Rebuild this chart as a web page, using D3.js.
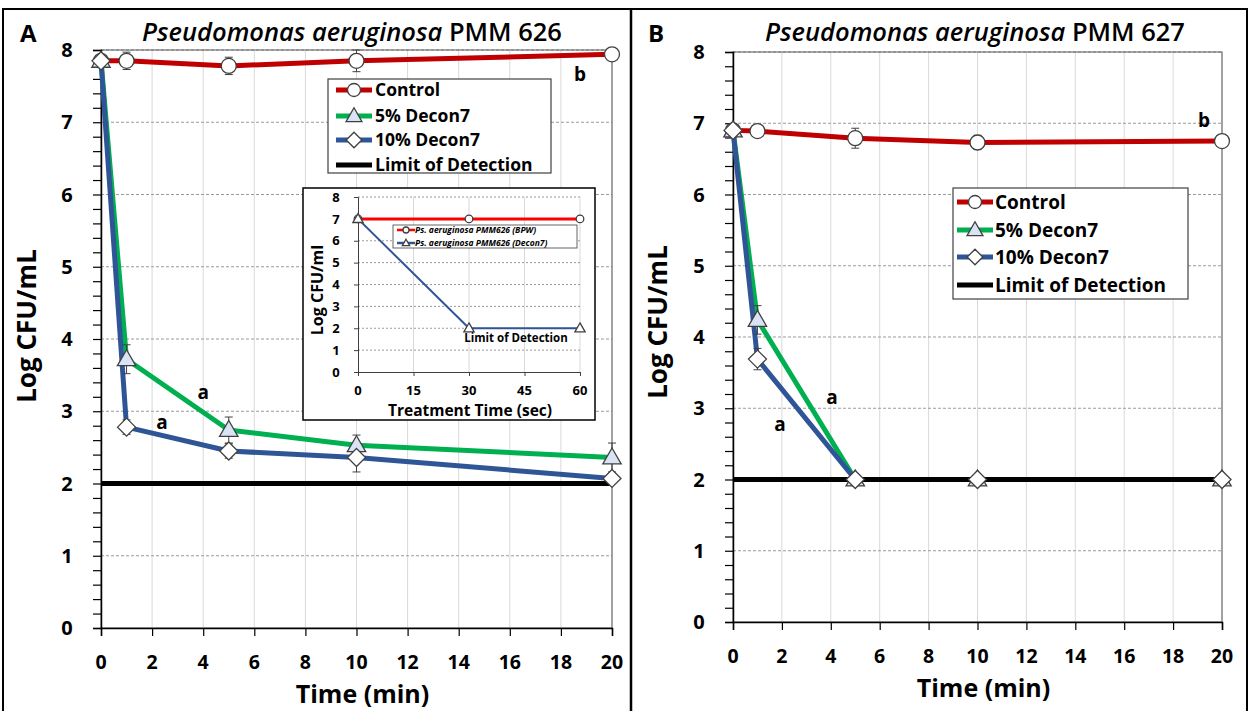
<!DOCTYPE html>
<html><head><meta charset="utf-8">
<script src="https://cdn.jsdelivr.net/npm/d3@7"></script>
<style>body{margin:0;background:#fff}svg{display:block}text{font-family:"Open Sans","Noto Sans",sans-serif}</style>
</head><body>
<svg id="c" width="1250" height="711"></svg>
<script>
// ---------- data ----------
const timesMin = [0, 1, 5, 10, 20];
const xTicksMin = [0, 2, 4, 6, 8, 10, 12, 14, 16, 18, 20];
const yTicks = [0, 1, 2, 3, 4, 5, 6, 7, 8];
const seriesNames = ["Control", "5% Decon7", "10% Decon7", "Limit of Detection"];
const limitOfDetection = 2;

const aControl = [7.85, 7.85, 7.78, 7.85, 7.94];
const aControlErr = [0.06, 0.12, 0.12, 0.15, 0.04];
const a5 = [7.85, 3.72, 2.74, 2.53, 2.36];
const a5Err = [0.08, 0.2, 0.18, 0.14, 0.2];
const a10 = [7.85, 2.78, 2.45, 2.36, 2.07];
const a10Err = [0.05, 0.1, 0.1, 0.2, 0.04];

const bControl = [6.9, 6.89, 6.79, 6.73, 6.75];
const bControlErr = [0.06, 0.06, 0.14, 0.1, 0.04];
const b5 = [6.9, 4.24, 2.0, 2.0, 2.0];
const b5Err = [0.05, 0.2, 0.02, 0.02, 0.02];
const b10 = [6.9, 3.69, 2.0, 2.0, 2.0];
const b10Err = [0.05, 0.15, 0.02, 0.02, 0.02];

const insetTimesSec = [0, 30, 60];
const insetXTicks = [0, 15, 30, 45, 60];
const insetBPW = [7, 7, 7];
const insetDecon7 = [7, 2, 2];
const insetNames = ["Ps. aeruginosa PMM626 (BPW)", "Ps. aeruginosa PMM626 (Decon7)"];

// ---------- styles ----------
const RED = "#C00000", GREEN = "#00B050", BLUE = "#2F5597", MK = "#404040", TRI = "#DAE3F3";
const svg = d3.select("#c");

// frames
svg.append("rect").attr("x", 3).attr("y", 9).attr("width", 1244).attr("height", 706)
  .attr("fill", "none").attr("stroke", "#000").attr("stroke-width", 2);
svg.append("line").attr("x1", 631).attr("x2", 631).attr("y1", 9).attr("y2", 711)
  .attr("stroke", "#000").attr("stroke-width", 2.5);

function marker(g, type, x, y, r, fill) {
  if (type === "circle") {
    g.append("circle").attr("cx", x).attr("cy", y).attr("r", r).attr("fill", fill || "#fff").attr("stroke", MK).attr("stroke-width", 1.3);
  } else if (type === "tri") {
    g.append("path").attr("d", d3.symbol(d3.symbolTriangle, r * r * 2.6)())
      .attr("transform", `translate(${x},${y + r * 0.15})`).attr("fill", fill || TRI).attr("stroke", MK).attr("stroke-width", 1.3);
  } else {
    g.append("path").attr("d", `M0,${-r * 1.2}L${r * 1.2},0L0,${r * 1.2}L${-r * 1.2},0Z`)
      .attr("transform", `translate(${x},${y})`).attr("fill", fill || "#fff").attr("stroke", MK).attr("stroke-width", 1.3);
  }
}

function panel(cfg) {
  const x = d3.scaleLinear().domain([0, 20]).range([cfg.left, cfg.right]);
  const y = d3.scaleLinear().domain([0, 8]).range([cfg.bottom, cfg.top]);
  const g = svg.append("g");
  g.append("g").selectAll("line").data(xTicksMin.slice(1)).join("line")
    .attr("x1", d => x(d)).attr("x2", d => x(d)).attr("y1", cfg.top).attr("y2", cfg.bottom)
    .attr("stroke", "#d9d9d9").attr("stroke-width", 1);
  g.append("g").selectAll("line").data(yTicks.slice(1)).join("line")
    .attr("x1", cfg.left).attr("x2", cfg.right).attr("y1", d => y(d)).attr("y2", d => y(d))
    .attr("stroke", "#9a9a9a").attr("stroke-dasharray", "3,2").attr("stroke-width", 1);
  g.append("rect").attr("x", cfg.left).attr("y", cfg.top).attr("width", cfg.right - cfg.left).attr("height", cfg.bottom - cfg.top)
    .attr("fill", "none").attr("stroke", "#595959").attr("stroke-width", 1);
  const yAx = g.append("g").attr("transform", `translate(${cfg.left},0)`)
    .call(d3.axisLeft(y).tickValues(d3.range(0, 8.01, 0.2)).tickSize(8).tickFormat(""));
  yAx.select(".domain").attr("stroke", "#000").attr("stroke-width", 1.5);
  yAx.selectAll(".tick line").attr("stroke", "#000").attr("stroke-width", 1.2);
  g.append("g").selectAll("text").data(yTicks).join("text")
    .attr("x", cfg.left - 34).attr("y", d => y(d)).attr("dy", "0.36em").attr("text-anchor", "middle")
    .attr("font-size", 20).attr("font-weight", 700).text(d => d);
  const xAx = g.append("g").attr("transform", `translate(0,${cfg.bottom})`)
    .call(d3.axisBottom(x).tickValues(xTicksMin).tickSize(8).tickFormat(""));
  xAx.select(".domain").attr("stroke", "#000").attr("stroke-width", 1.5);
  xAx.selectAll(".tick line").attr("stroke", "#000").attr("stroke-width", 1.2);
  g.append("g").selectAll("text").data(xTicksMin).join("text")
    .attr("x", d => x(d)).attr("y", cfg.bottom + 41).attr("text-anchor", "middle")
    .attr("font-size", 19.5).attr("font-weight", 700).text(d => d);
  g.append("text").attr("transform", `translate(${cfg.ytx},${cfg.ytc}) rotate(-90)`)
    .attr("text-anchor", "middle").attr("font-size", 26).attr("font-weight", 700).text("Log CFU/mL");
  g.append("text").attr("x", (cfg.left + cfg.right) / 2 + 6).attr("y", cfg.bottom + 75).attr("text-anchor", "middle")
    .attr("font-size", 25).attr("font-weight", 700).text("Time (min)");
  const t = g.append("text").attr("x", cfg.titleX).attr("y", 41).attr("text-anchor", "middle")
    .attr("font-size", 25.5).attr("font-weight", 600);
  t.append("tspan").attr("font-style", "italic").text("Pseudomonas aeruginosa");
  t.append("tspan").text(" " + cfg.strain);
  g.append("text").attr("x", cfg.letterX).attr("y", 42).attr("font-size", 24).attr("font-weight", 700).text(cfg.letter);

  const series = [
    { v: cfg.control, e: cfg.controlErr, c: RED, m: "circle" },
    { v: cfg.s5, e: cfg.s5Err, c: GREEN, m: "tri" },
    { v: cfg.s10, e: cfg.s10Err, c: BLUE, m: "diamond" }
  ];
  const line = d3.line().x((d, i) => x(timesMin[i])).y(d => y(d));
  series.forEach(s => {
    g.append("path").attr("d", line(s.v)).attr("fill", "none").attr("stroke", s.c).attr("stroke-width", 5).attr("stroke-linejoin", "round");
  });
  g.append("line").attr("x1", cfg.left).attr("x2", cfg.right).attr("y1", y(limitOfDetection)).attr("y2", y(limitOfDetection))
    .attr("stroke", "#000").attr("stroke-width", 5);
  series.forEach(s => {
    s.v.forEach((v, i) => {
      const cx = x(timesMin[i]);
      const y0 = y(v - s.e[i]), y1 = y(v + s.e[i]);
      g.append("line").attr("x1", cx).attr("x2", cx).attr("y1", y0).attr("y2", y1).attr("stroke", MK).attr("stroke-width", 1);
      [y0, y1].forEach(yy => g.append("line").attr("x1", cx - 4).attr("x2", cx + 4).attr("y1", yy).attr("y2", yy).attr("stroke", MK).attr("stroke-width", 1));
    });
  });
  series.forEach(s => s.v.forEach((v, i) => marker(g, s.m, x(timesMin[i]), y(v), 7.5)));

  cfg.letters.forEach(l => g.append("text").attr("x", x(l[0])).attr("y", y(l[1])).attr("dy", "0.3em").attr("text-anchor", "middle")
    .attr("font-size", 19).attr("font-weight", 700).text(l[2]));

  const L = cfg.legend;
  const lg = g.append("g");
  lg.append("rect").attr("x", L.x).attr("y", L.y).attr("width", L.w).attr("height", L.h).attr("fill", "#fff").attr("stroke", "#404040").attr("stroke-width", 1.2);
  const cols = [RED, GREEN, BLUE, "#000"], mks = ["circle", "tri", "diamond", null];
  seriesNames.forEach((n, i) => {
    const yy = L.rows[i];
    lg.append("line").attr("x1", L.sx).attr("x2", L.sx + L.sw).attr("y1", yy).attr("y2", yy).attr("stroke", cols[i]).attr("stroke-width", 5);
    if (mks[i]) marker(lg, mks[i], L.sx + L.sw / 2, yy, 6.5);
    lg.append("text").attr("x", L.tx).attr("y", yy).attr("dy", "0.36em").attr("font-size", L.fs).attr("font-weight", 700).text(n);
  });
}

panel({
  left: 101, right: 612, top: 50, bottom: 628, ytx: 36, ytc: 326, titleX: 352, letterX: 20, letter: "A", strain: "PMM 626",
  control: aControl, controlErr: aControlErr, s5: a5, s5Err: a5Err, s10: a10, s10Err: a10Err,
  letters: [[4.0, 3.25, "a"], [2.39, 2.84, "a"], [18.75, 7.65, "b"]],
  legend: { x: 328, y: 79, w: 223, h: 94, rows: [90, 116, 140, 165], sx: 336, sw: 36, tx: 375, fs: 17.5 }
});
panel({
  left: 733, right: 1222, top: 52, bottom: 622, ytx: 667, ytc: 322, titleX: 975, letterX: 648, letter: "B", strain: "PMM 627",
  control: bControl, controlErr: bControlErr, s5: b5, s5Err: b5Err, s10: b10, s10Err: b10Err,
  letters: [[4.05, 3.14, "a"], [1.92, 2.76, "a"], [19.26, 7.03, "b"]],
  legend: { x: 953, y: 188, w: 235, h: 111, rows: [202, 230, 257, 285], sx: 957, sw: 36, tx: 995, fs: 19 }
});

// ---------- inset ----------
(function inset() {
  const box = { x: 303, y: 188, w: 292, h: 232 };
  const left = 358, right = 580, top = 197, bottom = 372;
  const g = svg.append("g");
  g.append("rect").attr("x", box.x).attr("y", box.y).attr("width", box.w).attr("height", box.h).attr("fill", "#fff").attr("stroke", "#000").attr("stroke-width", 1.5);
  const x = d3.scaleLinear().domain([0, 60]).range([left, right]);
  const y = d3.scaleLinear().domain([0, 8]).range([bottom, top]);
  g.append("g").selectAll("line").data(insetXTicks.slice(1)).join("line")
    .attr("x1", d => x(d)).attr("x2", d => x(d)).attr("y1", top).attr("y2", bottom).attr("stroke", "#d9d9d9");
  g.append("g").selectAll("line").data(yTicks.slice(1)).join("line")
    .attr("x1", left).attr("x2", right).attr("y1", d => y(d)).attr("y2", d => y(d))
    .attr("stroke", "#9a9a9a").attr("stroke-dasharray", "2,2");
  const ya = g.append("g").attr("transform", `translate(${left},0)`).call(d3.axisLeft(y).tickValues(yTicks).tickSize(4).tickFormat(""));
  ya.selectAll("path,line").attr("stroke", "#404040");
  const xa = g.append("g").attr("transform", `translate(0,${bottom})`).call(d3.axisBottom(x).tickValues(insetXTicks).tickSize(4).tickFormat(""));
  xa.selectAll("path,line").attr("stroke", "#404040");
  g.append("g").selectAll("text").data(yTicks).join("text").attr("x", left - 22).attr("y", d => y(d)).attr("dy", "0.36em")
    .attr("text-anchor", "middle").attr("font-size", 13).attr("font-weight", 700).text(d => d);
  g.append("g").selectAll("text").data(insetXTicks).join("text").attr("x", d => x(d)).attr("y", bottom + 23)
    .attr("text-anchor", "middle").attr("font-size", 13).attr("font-weight", 700).text(d => d);
  g.append("text").attr("transform", `translate(323,290) rotate(-90)`).attr("text-anchor", "middle")
    .attr("font-size", 16).attr("font-weight", 700).text("Log CFU/ml");
  g.append("text").attr("x", 470).attr("y", 416).attr("text-anchor", "middle").attr("font-size", 15.5).attr("font-weight", 700).text("Treatment Time (sec)");
  const line = d3.line().x((d, i) => x(insetTimesSec[i])).y(d => y(d));
  g.append("path").attr("d", line(insetBPW)).attr("fill", "none").attr("stroke", "#FF0000").attr("stroke-width", 3);
  g.append("path").attr("d", line(insetDecon7)).attr("fill", "none").attr("stroke", BLUE).attr("stroke-width", 2);
  insetBPW.forEach((v, i) => marker(g, "circle", x(insetTimesSec[i]), y(v), 3.8));
  insetDecon7.forEach((v, i) => marker(g, "tri", x(insetTimesSec[i]), y(v), 4.2, "#fff"));
  g.append("text").attr("x", 516).attr("y", 342).attr("text-anchor", "middle").attr("font-size", 11.5).attr("font-weight", 700).text("Limit of Detection");
  const lx = 393, ly = 225;
  g.append("rect").attr("x", lx).attr("y", ly).attr("width", 184).attr("height", 23).attr("fill", "#fff").attr("stroke", "#404040").attr("stroke-width", 0.8);
  [["#FF0000", "circle"], [BLUE, "tri"]].forEach((s, i) => {
    const yy = 230 + i * 13;
    g.append("line").attr("x1", lx + 4).attr("x2", lx + 22).attr("y1", yy).attr("y2", yy).attr("stroke", s[0]).attr("stroke-width", 2.5);
    marker(g, s[1], lx + 13, yy, 3, "#fff");
    g.append("text").attr("x", lx + 22).attr("y", yy).attr("dy", "0.35em").attr("font-size", 8.5).attr("font-weight", 700)
      .attr("font-style", "italic").text(insetNames[i]);
  });
})();
</script>
</body></html>
